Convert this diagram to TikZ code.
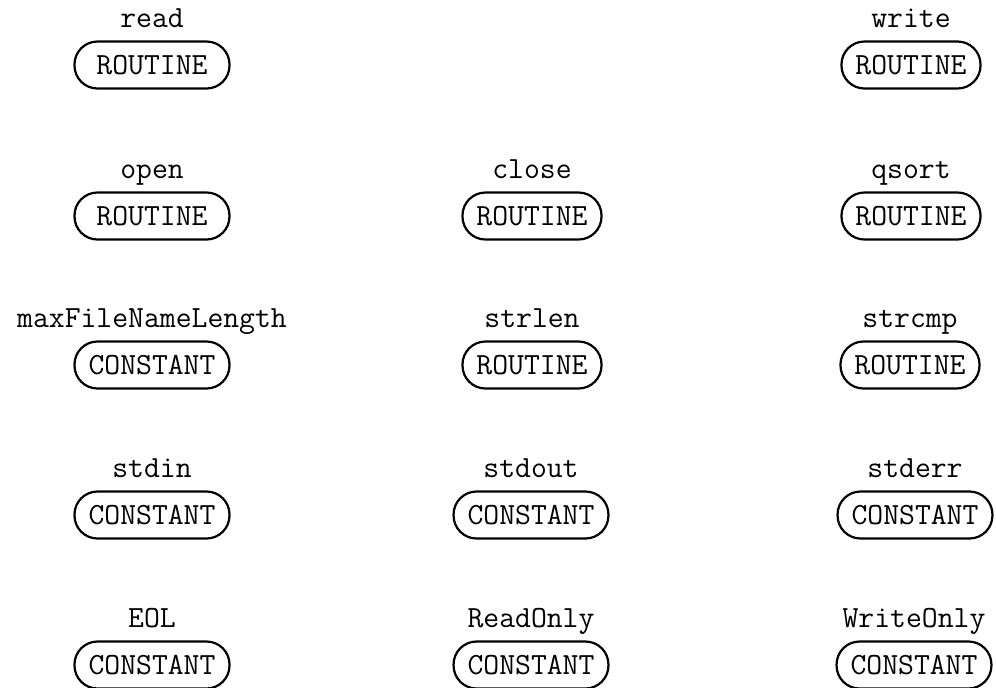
\documentclass[tikz,border=0pt]{standalone}
\usetikzlibrary{positioning}
\begin{document}
\begin{tikzpicture}[x=0.5pt, y=-0.5pt,
    entrybox/.style={draw, line width=1.1pt, rounded corners=11.5pt, minimum height=23.5pt,
        inner xsep=7pt, inner ysep=0pt, font=\fontsize{15.4}{18}\selectfont\ttfamily},
    widebox/.style={entrybox, minimum width=77.5pt},
    entrylabel/.style={inner sep=0pt, text height=1.5ex, text depth=.25ex,
        font=\fontsize{15.4}{18}\selectfont\ttfamily}]
    \useasboundingbox (0,0) rectangle (996,687);
    % first row
    \node[widebox] (read) at (152,65) {ROUTINE};
    \node[entrylabel, above=5pt of read] (readlbl) {read};
    \node[entrybox] (write) at (911,65) {ROUTINE};
    \node[entrylabel, above=5pt of write] (writelbl) {write};
    % second row
    \node[widebox] (open) at (152,216) {ROUTINE};
    \node[entrylabel, above=5pt of open] (openlbl) {open};
    \node[entrybox] (close) at (532,216) {ROUTINE};
    \node[entrylabel, above=5pt of close] (closelbl) {close};
    \node[entrybox] (qsort) at (911,216) {ROUTINE};
    \node[entrylabel, above=5pt of qsort] (qsortlbl) {qsort};
    % third row
    \node[widebox] (maxlen) at (152,365) {CONSTANT};
    \node[entrylabel, above=5pt of maxlen] (maxlenlbl) {maxFileNameLength};
    \node[entrybox] (strlen) at (532,365) {ROUTINE};
    \node[entrylabel, above=5pt of strlen] (strlenlbl) {strlen};
    \node[entrybox] (strcmp) at (910,365) {ROUTINE};
    \node[entrylabel, above=5pt of strcmp] (strcmplbl) {strcmp};
    % fourth row
    \node[widebox] (stdin) at (152,515) {CONSTANT};
    \node[entrylabel, above=5pt of stdin] (stdinlbl) {stdin};
    \node[entrybox] (stdout) at (531,515) {CONSTANT};
    \node[entrylabel, above=5pt of stdout] (stdoutlbl) {stdout};
    \node[entrybox] (stderr) at (915,515) {CONSTANT};
    \node[entrylabel, above=5pt of stderr] (stderrlbl) {stderr};
    % fifth row
    \node[widebox] (eol) at (152,665) {CONSTANT};
    \node[entrylabel, above=5pt of eol] (eollbl) {EOL};
    \node[entrybox] (rdonly) at (531,665) {CONSTANT};
    \node[entrylabel, above=5pt of rdonly] (rdonlylbl) {ReadOnly};
    \node[entrybox] (wronly) at (914,665) {CONSTANT};
    \node[entrylabel, above=5pt of wronly] (wronlylbl) {WriteOnly};
\end{tikzpicture}
\end{document}
